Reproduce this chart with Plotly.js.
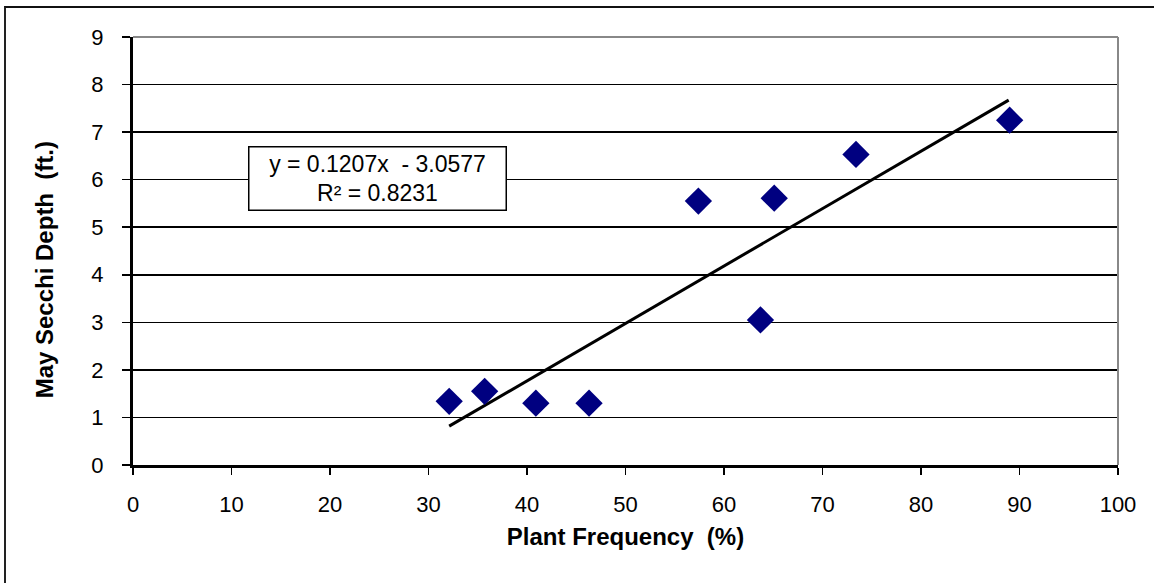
<!DOCTYPE html>
<html><head><meta charset="utf-8">
<script src="https://cdn.plot.ly/plotly-3.0.1.min.js"></script>
<style>body{margin:0;background:#fff}
#frame{position:absolute;left:4px;top:6px;width:1200px;height:700px;border-left:2px solid #222;border-top:2px solid #111;pointer-events:none}</style>
</head><body>
<div id="chart" style="width:1154px;height:583px"></div>
<div id="frame"></div>
<script>
const plantFreq = [32.1, 35.7, 40.9, 46.3, 57.4, 63.7, 65.1, 73.4, 89.0];
const secchiDepth = [1.34, 1.55, 1.30, 1.30, 5.55, 3.05, 5.61, 6.53, 7.25];
const slope = 0.1207, intercept = -3.0577;
const trendX = [32.1, 88.9];
const trendY = trendX.map(x => slope * x + intercept);
const xTicks = [0,10,20,30,40,50,60,70,80,90,100];
const yTicks = [0,1,2,3,4,5,6,7,8,9];

const FONT = 'Liberation Sans, Arial, sans-serif';
const data = [
  {x: trendX, y: trendY, type:'scatter', mode:'lines', line:{color:'#000', width:3}, hoverinfo:'skip'},
  {x: plantFreq, y: secchiDepth, type:'scatter', mode:'markers',
   marker:{symbol:'diamond', size:21, color:'#000080', line:{width:0}}}
];
const layout = {
  width:1154, height:583, showlegend:false,
  margin:{l:133, r:36, t:37, b:118},
  paper_bgcolor:'#fff', plot_bgcolor:'#fff',
  font:{family:FONT, size:22, color:'#000'},
  xaxis:{range:[0,100], tickvals:xTicks, ticks:'outside', ticklen:7, tickwidth:1.5, tickcolor:'#000',
    tickfont:{family:FONT, size:22, color:'#000'}, ticklabelstandoff:11,
    showgrid:false, zeroline:false, showline:true, linecolor:'#000', linewidth:3,
    title:{text:'<b>Plant Frequency  (%)</b>', font:{family:FONT, size:24}, standoff:12}, fixedrange:true},
  yaxis:{range:[0,9], tickvals:yTicks, ticks:'outside', ticklen:8, tickwidth:1.5, tickcolor:'#000',
    tickfont:{family:FONT, size:22, color:'#000'}, ticklabelstandoff:14,
    showgrid:true, gridcolor:'#000', gridwidth:1.5, zeroline:false, showline:true, linecolor:'#000', linewidth:3,
    fixedrange:true},
  shapes:[
    {type:'line', xref:'paper', yref:'paper', x0:0, x1:1, y0:1, y1:1, line:{color:'#888', width:2}},
    {type:'line', xref:'paper', yref:'paper', x0:1, x1:1, y0:0, y1:1, line:{color:'#888', width:2}}
  ],
  annotations:[
    {x:24.8, y:6.03, xref:'x', yref:'y', showarrow:false,
     text:'y = 0.1207x  - 3.0577<br>R² = 0.8231', align:'center',
     font:{family:FONT, size:23, color:'#000'}, bgcolor:'#fff', bordercolor:'#000', borderwidth:1.5, borderpad:3, width:250},
    {x:-0.0904, y:0.457, xref:'paper', yref:'paper', showarrow:false, textangle:-90,
     xanchor:'center', yanchor:'middle',
     text:'<b>May Secchi Depth  (ft.)</b>', font:{family:FONT, size:24, color:'#000'}}
  ]
};
Plotly.newPlot('chart', data, layout, {displayModeBar:false, staticPlot:true});
</script>
</body></html>
